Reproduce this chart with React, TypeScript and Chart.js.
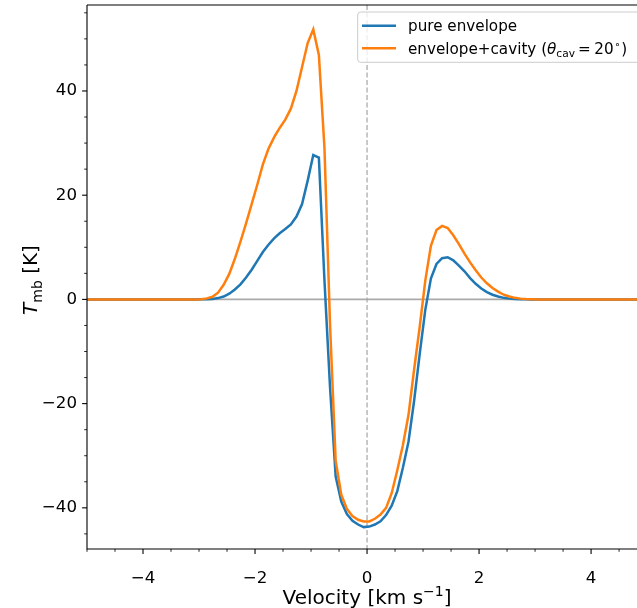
import React, { useEffect, useRef } from "react";
import { Chart, registerables } from "chart.js";

Chart.register(...registerables);

// ---------------- data ----------------
const velocities = [
  -5.0, -3.06, -2.96, -2.86, -2.76, -2.66, -2.56, -2.46, -2.36, -2.26, -2.16,
  -2.06, -1.96, -1.86, -1.76, -1.66, -1.56, -1.46, -1.36, -1.26, -1.16, -1.06,
  -0.96, -0.86, -0.76, -0.66, -0.56, -0.46, -0.36, -0.26, -0.16, -0.06, 0.04,
  0.14, 0.24, 0.34, 0.44, 0.54, 0.64, 0.74, 0.84, 0.94, 1.04, 1.14, 1.24,
  1.34, 1.44, 1.54, 1.64, 1.74, 1.84, 1.94, 2.04, 2.14, 2.24, 2.34, 2.44,
  2.54, 2.64, 2.74, 2.84, 2.94, 3.04, 5.0,
];

const pureEnvelope = [
  0, 0, 0.02, 0.05, 0.1, 0.25, 0.55, 1.1, 1.9, 2.9, 4.2,
  5.7, 7.4, 9.1, 10.5, 11.7, 12.7, 13.5, 14.4, 15.9, 18.3, 22.8,
  27.7, 27.2, 3.6, -17.0, -34.0, -38.8, -41.2, -42.5, -43.2, -43.7, -43.6,
  -43.2, -42.6, -41.4, -39.6, -36.8, -32.3, -27.3, -19.5, -10.5, -2.0, 4.0, 6.8,
  7.9, 8.1, 7.5, 6.5, 5.4, 4.1, 3.0, 2.1, 1.4, 0.9, 0.55, 0.3,
  0.15, 0.07, 0.03, 0.01, 0, 0, 0,
];

const envelopeCavity = [
  0, 0, 0.05, 0.2, 0.5, 1.3, 2.8, 4.9, 7.8, 11.1, 14.6,
  18.3, 22.0, 25.9, 28.9, 31.1, 32.9, 34.5, 36.6, 40.0, 44.6, 49.2,
  51.8, 46.9, 29.0, -5.0, -31.0, -37.5, -40.2, -41.6, -42.3, -42.6, -42.6,
  -42.1, -41.3, -40.0, -37.2, -32.8, -28.0, -22.2, -13.5, -5.3, 3.6, 10.3, 13.3,
  14.1, 13.7, 12.3, 10.6, 8.8, 7.1, 5.6, 4.2, 3.1, 2.2, 1.5, 0.9,
  0.55, 0.3, 0.15, 0.07, 0.03, 0, 0,
];

const seriesNames = ["pure envelope", "envelope+cavity"];
const seriesColors = ["#1f77b4", "#ff7f0e"];
const xTickValues = [-4, -2, 0, 2, 4];
const yTickValues = [-40, -20, 0, 20, 40];
const xMinorStep = 0.5;
const yMinorStep = 5;

const X_MIN = -5;
const X_MAX = 4.82;
const Y_MIN = -47.9;
const Y_MAX = 56.5;

const FONT = '"DejaVu Sans", sans-serif';
const LINE_W = 2.5;

function fmt(v: number): string {
  return v < 0 ? "\u2212" + Math.abs(v) : String(v);
}

const decor = {
  id: "decor",
  beforeDatasetsDraw(chart: any) {
    const { ctx, chartArea: ca, scales } = chart;
    const x = scales.x;
    const y = scales.y;
    ctx.save();
    const y0 = y.getPixelForValue(0);
    ctx.strokeStyle = "#aaaaaa";
    ctx.lineWidth = 1.6;
    ctx.beginPath();
    ctx.moveTo(ca.left, y0);
    ctx.lineTo(ca.right, y0);
    ctx.stroke();
    const x0 = x.getPixelForValue(0);
    ctx.setLineDash([5, 2.5]);
    ctx.lineWidth = 1.2;
    ctx.strokeStyle = "#a6a6a6";
    ctx.beginPath();
    ctx.moveTo(x0, ca.top);
    ctx.lineTo(x0, ca.bottom);
    ctx.stroke();
    ctx.restore();
  },
  afterDatasetsDraw(chart: any) {
    const { ctx, chartArea: ca, scales } = chart;
    const x = scales.x;
    const y = scales.y;
    ctx.save();
    // spines
    ctx.strokeStyle = "#000";
    ctx.lineWidth = 1.1;
    ctx.beginPath();
    ctx.moveTo(ca.left, ca.top);
    ctx.lineTo(ca.left, ca.bottom);
    ctx.lineTo(ca.right + 2, ca.bottom);
    ctx.moveTo(ca.left, ca.top);
    ctx.lineTo(ca.right + 2, ca.top);
    ctx.stroke();

    // x ticks
    const isMajorX = (v: number) => xTickValues.some((t) => Math.abs(t - v) < 1e-6);
    for (let v = Math.ceil(X_MIN / xMinorStep) * xMinorStep; v <= X_MAX + 1e-6; v += xMinorStep) {
      const px = x.getPixelForValue(v);
      const major = isMajorX(v);
      ctx.lineWidth = major ? 1.1 : 0.85;
      ctx.beginPath();
      ctx.moveTo(px, ca.bottom);
      ctx.lineTo(px, ca.bottom + (major ? 4.9 : 2.8));
      ctx.stroke();
    }
    // y ticks
    const isMajorY = (v: number) => yTickValues.some((t) => Math.abs(t - v) < 1e-6);
    for (let v = Math.ceil(Y_MIN / yMinorStep) * yMinorStep; v <= Y_MAX + 1e-6; v += yMinorStep) {
      const py = y.getPixelForValue(v);
      const major = isMajorY(v);
      ctx.lineWidth = major ? 1.1 : 0.85;
      ctx.beginPath();
      ctx.moveTo(ca.left, py);
      ctx.lineTo(ca.left - (major ? 4.9 : 2.8), py);
      ctx.stroke();
    }

    // legend
    const lLeft = 357.7;
    const lTop = ca.top + 7;
    const lH = 50.3;
    const lRight = 642;
    ctx.beginPath();
    if ((ctx as any).roundRect) {
      (ctx as any).roundRect(lLeft, lTop, lRight - lLeft, lH, 3);
    } else {
      ctx.rect(lLeft, lTop, lRight - lLeft, lH);
    }
    ctx.fillStyle = "rgba(255,255,255,0.8)";
    ctx.fill();
    ctx.strokeStyle = "#cccccc";
    ctx.lineWidth = 1;
    ctx.stroke();

    const rows = [lTop + 13.7, lTop + 36.3];
    rows.forEach((ry, i) => {
      ctx.strokeStyle = seriesColors[i];
      ctx.lineWidth = LINE_W;
      ctx.beginPath();
      ctx.moveTo(362, ry);
      ctx.lineTo(396, ry);
      ctx.stroke();
    });
    ctx.fillStyle = "#000";
    ctx.textBaseline = "alphabetic";
    ctx.textAlign = "left";
    const lf = 15.2;
    ctx.font = `${lf}px ${FONT}`;
    ctx.fillText(seriesNames[0], 408, rows[0] + 5.4);
    let cx = 408;
    const b2 = rows[1] + 5.6;
    const part1 = seriesNames[1] + " (";
    ctx.fillText(part1, cx, b2);
    cx += ctx.measureText(part1).width;
    ctx.font = `italic ${lf}px ${FONT}`;
    ctx.fillText("\u03b8", cx, b2);
    cx += ctx.measureText("\u03b8").width;
    ctx.font = `${lf * 0.7}px ${FONT}`;
    ctx.fillText("cav", cx, b2 + 3.4);
    cx += ctx.measureText("cav").width + 3;
    ctx.font = `${lf}px ${FONT}`;
    ctx.fillText("=", cx, b2);
    cx += ctx.measureText("=").width + 3.5;
    ctx.fillText("20", cx, b2);
    cx += ctx.measureText("20").width + 0.5;
    ctx.font = `${lf * 0.7}px ${FONT}`;
    ctx.fillText("\u2218", cx, b2 - 6);
    cx += ctx.measureText("\u2218").width + 0.5;
    ctx.font = `${lf}px ${FONT}`;
    ctx.fillText(")", cx, b2);

    // x axis label
    const xf = 20;
    const xl1 = "Velocity [km s";
    const xl2 = "\u22121";
    const xl3 = "]";
    ctx.font = `${xf}px ${FONT}`;
    const w1 = ctx.measureText(xl1).width;
    const w3 = ctx.measureText(xl3).width;
    ctx.font = `${xf * 0.7}px ${FONT}`;
    const w2 = ctx.measureText(xl2).width;
    const xc = x.getPixelForValue(0);
    let sx = xc - (w1 + w2 + w3) / 2;
    const xb = 604;
    ctx.font = `${xf}px ${FONT}`;
    ctx.fillText(xl1, sx, xb);
    sx += w1;
    ctx.font = `${xf * 0.7}px ${FONT}`;
    ctx.fillText(xl2, sx, xb - 8);
    sx += w2;
    ctx.font = `${xf}px ${FONT}`;
    ctx.fillText(xl3, sx, xb);

    // y axis label (rotated)
    ctx.save();
    ctx.translate(37, 280);
    ctx.rotate(-Math.PI / 2);
    ctx.font = `italic ${xf}px ${FONT}`;
    const wT = ctx.measureText("T").width;
    ctx.font = `${xf * 0.7}px ${FONT}`;
    const wS = ctx.measureText("mb").width;
    ctx.font = `${xf}px ${FONT}`;
    const wR = ctx.measureText(" [K]").width;
    let ry = -(wT + wS + wR) / 2;
    ctx.font = `italic ${xf}px ${FONT}`;
    ctx.fillText("T", ry, 0);
    ry += wT;
    ctx.font = `${xf * 0.7}px ${FONT}`;
    ctx.fillText("mb", ry, 4.5);
    ry += wS;
    ctx.font = `${xf}px ${FONT}`;
    ctx.fillText(" [K]", ry, 0);
    ctx.restore();

    ctx.restore();
  },
};

export default function App() {
  const canvasRef = useRef<HTMLCanvasElement | null>(null);

  useEffect(() => {
    const canvas = canvasRef.current;
    if (!canvas) return;
    const tickFont = { family: FONT, size: 16.67 };
    const chart = new Chart(canvas, {
      type: "line",
      data: {
        datasets: [
          {
            label: seriesNames[0],
            data: velocities.map((v, i) => ({ x: v, y: pureEnvelope[i] })),
            borderColor: seriesColors[0],
            backgroundColor: seriesColors[0],
            borderWidth: LINE_W,
            pointRadius: 0,
            tension: 0,
            fill: false,
            order: 1,
          },
          {
            label: seriesNames[1],
            data: velocities.map((v, i) => ({ x: v, y: envelopeCavity[i] })),
            borderColor: seriesColors[1],
            backgroundColor: seriesColors[1],
            borderWidth: LINE_W,
            pointRadius: 0,
            tension: 0,
            fill: false,
            order: 0,
          },
        ],
      },
      options: {
        responsive: false,
        animation: false,
        devicePixelRatio: 1,
        layout: { padding: { top: 5, right: 0, bottom: 0, left: 0 } },
        plugins: { legend: { display: false }, tooltip: { enabled: false } },
        scales: {
          x: {
            type: "linear",
            min: X_MIN,
            max: X_MAX,
            afterBuildTicks: (scale: any) => {
              scale.ticks = xTickValues.map((v) => ({ value: v }));
            },
            afterFit: (scale: any) => {
              scale.height = 59;
              scale.paddingLeft = 0;
              scale.paddingRight = 0;
            },
            ticks: {
              font: tickFont,
              color: "#000",
              padding: 20,
              maxRotation: 0,
              autoSkip: false,
              callback: (v: any) => fmt(Number(v)),
            },
            grid: { display: false, drawTicks: false },
            border: { display: false },
          },
          y: {
            type: "linear",
            min: Y_MIN,
            max: Y_MAX,
            afterBuildTicks: (scale: any) => {
              scale.ticks = yTickValues.map((v) => ({ value: v }));
            },
            afterFit: (scale: any) => {
              scale.width = 87;
              scale.paddingTop = 0;
              scale.paddingBottom = 0;
            },
            ticks: {
              font: tickFont,
              color: "#000",
              padding: 10,
              autoSkip: false,
              callback: (v: any) => fmt(Number(v)),
            },
            grid: { display: false, drawTicks: false },
            border: { display: false },
          },
        },
      },
      plugins: [decor],
    } as any);
    return () => chart.destroy();
  }, []);

  return (
    <div style={{ position: "absolute", left: 0, top: 0, width: 637, height: 608, background: "#fff" }}>
      <canvas ref={canvasRef} width={637} height={608} style={{ display: "block", width: 637, height: 608 }} />
    </div>
  );
}
